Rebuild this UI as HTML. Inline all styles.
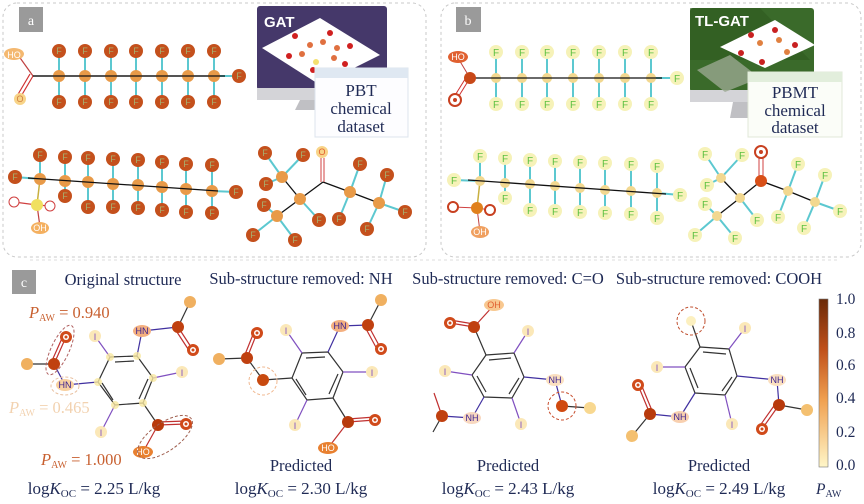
<!DOCTYPE html>
<html><head><meta charset="utf-8"><style>
html,body{margin:0;padding:0;background:#fff}
svg{display:block}
.t{font-family:"Liberation Serif",serif;fill:#1f2a55}
.fa{font-family:"Liberation Sans",sans-serif;font-size:9px;fill:#a8b070;text-anchor:middle}
.fb{font-family:"Liberation Sans",sans-serif;font-size:10px;fill:#5cc040;text-anchor:middle}
.lbl{font-family:"Liberation Serif",serif;font-size:14px;fill:#fff;text-anchor:middle}
.cy{stroke:#5cc8d0;stroke-width:2}
.bk{stroke:#111;stroke-width:1.3}
.at{font-family:"Liberation Sans",sans-serif;font-size:9px;text-anchor:middle}
</style></head><body>
<svg width="864" height="504" viewBox="0 0 864 504" xmlns="http://www.w3.org/2000/svg">
<defs>
<g id="Fa"><circle r="7" fill="#c4501c"/></g>
<g id="Fb"><circle r="7" fill="#f6f2b8"/></g>
<g id="Ca"><circle r="6" fill="#e89a48"/></g>
<g id="Cb"><circle r="5" fill="#f2d890"/></g>
<linearGradient id="cb" x1="0" y1="0" x2="0" y2="1">
<stop offset="0" stop-color="#6a2a08"/><stop offset="0.3" stop-color="#c0501a"/><stop offset="0.6" stop-color="#f0a050"/><stop offset="1" stop-color="#fff6c8"/></linearGradient>
</defs>

<rect x="3" y="3" width="423" height="254" rx="14" fill="none" stroke="#c8c8c8" stroke-dasharray="3,3"/>
<rect x="441" y="3" width="420" height="254" rx="14" fill="none" stroke="#c8c8c8" stroke-dasharray="3,3"/>
<line x1="30" y1="260" x2="840" y2="260" stroke="#ddd" stroke-dasharray="3,3"/>
<rect x="19" y="7" width="24" height="25" fill="#9a9a9a"/><text x="31" y="25" class="lbl">a</text>
<rect x="456" y="7" width="25" height="25" fill="#9a9a9a"/><text x="468" y="25" class="lbl">b</text>
<rect x="12" y="270" width="24" height="24" fill="#9a9a9a"/><text x="24" y="287" class="lbl">c</text>

<!-- Panel a chain 1 -->
<line x1="33" y1="76" x2="232" y2="76" class="bk"/>
<line x1="33" y1="76" x2="18" y2="55" stroke="#c04040" stroke-width="1.2"/>
<line x1="33" y1="76" x2="20" y2="98" stroke="#d03030" stroke-width="1.2"/>
<line x1="30" y1="74" x2="17" y2="96" stroke="#d03030" stroke-width="1.2"/>
<ellipse cx="14" cy="54" rx="10" ry="6" fill="#f4b870"/><text x="14" y="58" class="at" fill="#fff">HO</text>
<circle cx="20" cy="99" r="6" fill="#f8d488"/><text x="20" y="102" class="at" fill="#d08040">O</text>
<g class="cy">
<line x1="59" y1="51" x2="59" y2="102"/><line x1="85" y1="51" x2="85" y2="102"/><line x1="111" y1="51" x2="111" y2="102"/><line x1="136" y1="51" x2="136" y2="102"/><line x1="162" y1="51" x2="162" y2="102"/><line x1="188" y1="51" x2="188" y2="102"/><line x1="214" y1="51" x2="214" y2="102"/><line x1="214" y1="76" x2="239" y2="76"/></g>
<use href="#Ca" x="59" y="76"/><use href="#Ca" x="85" y="76"/><use href="#Ca" x="111" y="76"/><use href="#Ca" x="136" y="76"/><use href="#Ca" x="162" y="76"/><use href="#Ca" x="188" y="76"/><use href="#Ca" x="214" y="76"/>
<line x1="33" y1="76" x2="225" y2="76" class="bk"/>
<use href="#Fa" x="59" y="51"/><use href="#Fa" x="85" y="51"/><use href="#Fa" x="111" y="51"/><use href="#Fa" x="136" y="51"/><use href="#Fa" x="162" y="51"/><use href="#Fa" x="188" y="51"/><use href="#Fa" x="214" y="51"/>
<use href="#Fa" x="59" y="102"/><use href="#Fa" x="85" y="102"/><use href="#Fa" x="111" y="102"/><use href="#Fa" x="136" y="102"/><use href="#Fa" x="162" y="102"/><use href="#Fa" x="188" y="102"/><use href="#Fa" x="214" y="102"/><use href="#Fa" x="239" y="76"/>
<text x="59" y="54" class="fa">F</text><text x="85" y="54" class="fa">F</text><text x="111" y="54" class="fa">F</text><text x="136" y="54" class="fa">F</text><text x="162" y="54" class="fa">F</text><text x="188" y="54" class="fa">F</text><text x="214" y="54" class="fa">F</text>
<text x="59" y="105" class="fa">F</text><text x="85" y="105" class="fa">F</text><text x="111" y="105" class="fa">F</text><text x="136" y="105" class="fa">F</text><text x="162" y="105" class="fa">F</text><text x="188" y="105" class="fa">F</text><text x="214" y="105" class="fa">F</text><text x="239" y="79" class="fa">F</text>

<!-- GAT monitor -->
<rect x="257" y="6" width="130" height="84" rx="3" fill="#45386a"/>
<rect x="257" y="88" width="130" height="12" fill="#d4d4d8"/>
<polygon points="300,100 318,100 318,110 295,110" fill="#c0c0c4"/>
<polygon points="262,48 320,18 380,55 320,85" fill="#fff"/>
<g fill="#e07040"><circle cx="310" cy="45" r="3"/><circle cx="323" cy="42" r="3"/><circle cx="337" cy="48" r="3"/><circle cx="302" cy="54" r="3"/><circle cx="334" cy="58" r="3"/></g>
<g fill="#d02020"><circle cx="295" cy="36" r="3"/><circle cx="330" cy="33" r="3"/><circle cx="350" cy="46" r="3"/><circle cx="289" cy="56" r="3"/><circle cx="345" cy="64" r="3"/><circle cx="313" cy="70" r="3"/></g>
<circle cx="316" cy="62" r="3" fill="#f4e070"/>
<text x="264" y="27" font-family="Liberation Sans,sans-serif" font-size="15" font-weight="bold" fill="#fff">GAT</text>
<rect x="315" y="68" width="93" height="69" fill="#fdfdff" stroke="#dde4ee"/>
<rect x="315" y="68" width="93" height="10" fill="#dfe8f2"/>
<text x="361" y="96" class="t" font-size="17" text-anchor="middle">PBT</text>
<text x="361" y="114" class="t" font-size="17" text-anchor="middle">chemical</text>
<text x="361" y="132" class="t" font-size="17" text-anchor="middle">dataset</text>

<!-- Panel a chain 2 -->
<g class="cy">
<line x1="15" y1="177" x2="40" y2="179"/>
<line x1="40" y1="155" x2="40" y2="179"/><line x1="65" y1="157" x2="65" y2="196"/><line x1="88" y1="158" x2="88" y2="207"/><line x1="113" y1="159" x2="113" y2="207"/><line x1="138" y1="160" x2="138" y2="208"/><line x1="162" y1="162" x2="162" y2="210"/><line x1="186" y1="164" x2="186" y2="212"/><line x1="212" y1="165" x2="212" y2="213"/><line x1="212" y1="191" x2="236" y2="192"/></g>
<line x1="40" y1="179" x2="37" y2="205" stroke="#c8b040" stroke-width="1.5"/>
<line x1="37" y1="205" x2="14" y2="202" stroke="#d04040" stroke-width="1.2"/><line x1="37" y1="205" x2="50" y2="206" stroke="#d04040" stroke-width="1.2"/><line x1="37" y1="205" x2="40" y2="227" stroke="#c04040" stroke-width="1.2"/>
<use href="#Ca" x="40" y="179"/><use href="#Ca" x="65" y="181"/><use href="#Ca" x="88" y="182"/><use href="#Ca" x="113" y="184"/><use href="#Ca" x="138" y="185"/><use href="#Ca" x="162" y="187"/><use href="#Ca" x="186" y="189"/><use href="#Ca" x="212" y="191"/>
<line x1="28" y1="178" x2="218" y2="191" class="bk"/>
<circle cx="37" cy="205" r="6" fill="#f0e060"/>
<circle cx="14" cy="202" r="5" fill="#fff" stroke="#d04040"/><circle cx="50" cy="206" r="5" fill="#fff" stroke="#d04040"/>
<ellipse cx="40" cy="228" rx="9" ry="6" fill="#f4b060"/><text x="40" y="231" class="at" fill="#fff">OH</text>
<g>
<use href="#Fa" x="15" y="177"/><use href="#Fa" x="40" y="155"/><use href="#Fa" x="65" y="157"/><use href="#Fa" x="88" y="158"/><use href="#Fa" x="113" y="159"/><use href="#Fa" x="138" y="160"/><use href="#Fa" x="162" y="162"/><use href="#Fa" x="186" y="164"/><use href="#Fa" x="212" y="165"/>
<use href="#Fa" x="65" y="196"/><use href="#Fa" x="88" y="207"/><use href="#Fa" x="113" y="207"/><use href="#Fa" x="138" y="208"/><use href="#Fa" x="162" y="210"/><use href="#Fa" x="186" y="212"/><use href="#Fa" x="212" y="213"/><use href="#Fa" x="236" y="192"/></g>
<text x="15" y="180" class="fa">F</text><text x="40" y="158" class="fa">F</text><text x="65" y="160" class="fa">F</text><text x="88" y="161" class="fa">F</text><text x="113" y="162" class="fa">F</text><text x="138" y="163" class="fa">F</text><text x="162" y="165" class="fa">F</text><text x="186" y="167" class="fa">F</text><text x="212" y="168" class="fa">F</text>
<text x="65" y="199" class="fa">F</text><text x="88" y="210" class="fa">F</text><text x="113" y="210" class="fa">F</text><text x="138" y="211" class="fa">F</text><text x="162" y="213" class="fa">F</text><text x="186" y="215" class="fa">F</text><text x="212" y="216" class="fa">F</text><text x="236" y="195" class="fa">F</text>

<!-- Panel a ketone -->
<g class="cy">
<line x1="282" y1="177" x2="265" y2="153"/><line x1="282" y1="177" x2="303" y2="155"/><line x1="282" y1="177" x2="266" y2="184"/>
<line x1="300" y1="199" x2="319" y2="220"/>
<line x1="277" y1="216" x2="264" y2="205"/><line x1="277" y1="216" x2="253" y2="235"/><line x1="277" y1="216" x2="295" y2="240"/>
<line x1="350" y1="192" x2="360" y2="164"/><line x1="350" y1="192" x2="339" y2="219"/>
<line x1="379" y1="203" x2="387" y2="175"/><line x1="379" y1="203" x2="405" y2="212"/><line x1="379" y1="203" x2="367" y2="229"/></g>
<line x1="282" y1="177" x2="300" y2="199" class="bk"/><line x1="300" y1="199" x2="277" y2="216" class="bk"/>
<line x1="300" y1="199" x2="323" y2="182" class="bk"/><line x1="323" y1="182" x2="350" y2="192" class="bk"/><line x1="350" y1="192" x2="379" y2="203" class="bk"/>
<line x1="321" y1="158" x2="321" y2="182" stroke="#d04040"/><line x1="324" y1="158" x2="324" y2="182" stroke="#d04040"/>
<use href="#Ca" x="282" y="177"/><use href="#Ca" x="300" y="199"/><use href="#Ca" x="277" y="216"/><use href="#Ca" x="350" y="192"/><use href="#Ca" x="379" y="203"/>
<circle cx="322" cy="152" r="6" fill="#f8d488"/><text x="322" y="155" class="at" fill="#e06030">O</text>
<use href="#Fa" x="265" y="153"/><use href="#Fa" x="303" y="155"/><use href="#Fa" x="266" y="184"/><use href="#Fa" x="319" y="220"/><use href="#Fa" x="264" y="205"/><use href="#Fa" x="253" y="235"/><use href="#Fa" x="295" y="240"/><use href="#Fa" x="360" y="164"/><use href="#Fa" x="339" y="219"/><use href="#Fa" x="387" y="175"/><use href="#Fa" x="405" y="212"/><use href="#Fa" x="367" y="229"/>
<text x="265" y="156" class="fa">F</text><text x="303" y="158" class="fa">F</text><text x="266" y="187" class="fa">F</text><text x="319" y="223" class="fa">F</text><text x="264" y="208" class="fa">F</text><text x="253" y="238" class="fa">F</text><text x="295" y="243" class="fa">F</text><text x="360" y="167" class="fa">F</text><text x="339" y="222" class="fa">F</text><text x="387" y="178" class="fa">F</text><text x="405" y="215" class="fa">F</text><text x="367" y="232" class="fa">F</text>

<!-- Panel b chain 1 -->
<g class="cy">
<line x1="496" y1="52" x2="496" y2="104"/><line x1="522" y1="52" x2="522" y2="104"/><line x1="547" y1="52" x2="547" y2="104"/><line x1="573" y1="52" x2="573" y2="104"/><line x1="599" y1="52" x2="599" y2="104"/><line x1="625" y1="52" x2="625" y2="104"/><line x1="651" y1="52" x2="651" y2="104"/><line x1="651" y1="78" x2="675" y2="78"/></g>
<use href="#Cb" x="496" y="78"/><use href="#Cb" x="522" y="78"/><use href="#Cb" x="547" y="78"/><use href="#Cb" x="573" y="78"/><use href="#Cb" x="599" y="78"/><use href="#Cb" x="625" y="78"/><use href="#Cb" x="651" y="78"/>
<line x1="470" y1="78" x2="662" y2="78" class="bk"/>
<line x1="470" y1="78" x2="458" y2="58" stroke="#c04040"/><line x1="470" y1="78" x2="457" y2="99" stroke="#d03030"/><line x1="467" y1="76" x2="454" y2="97" stroke="#d03030"/>
<circle cx="470" cy="78" r="6" fill="#c84818"/>
<ellipse cx="458" cy="57" rx="10" ry="6" fill="#e06030"/><text x="458" y="60" class="at" fill="#fff">HO</text>
<circle cx="455" cy="100" r="6" fill="#fff" stroke="#c84020" stroke-width="2"/><circle cx="455" cy="100" r="2" fill="#c84020"/>
<g><use href="#Fb" x="496" y="52"/><use href="#Fb" x="522" y="52"/><use href="#Fb" x="547" y="52"/><use href="#Fb" x="573" y="52"/><use href="#Fb" x="599" y="52"/><use href="#Fb" x="625" y="52"/><use href="#Fb" x="651" y="52"/>
<use href="#Fb" x="496" y="104"/><use href="#Fb" x="522" y="104"/><use href="#Fb" x="547" y="104"/><use href="#Fb" x="573" y="104"/><use href="#Fb" x="599" y="104"/><use href="#Fb" x="625" y="104"/><use href="#Fb" x="651" y="104"/><use href="#Fb" x="677" y="78"/></g>
<text x="496" y="56" class="fb">F</text><text x="522" y="56" class="fb">F</text><text x="547" y="56" class="fb">F</text><text x="573" y="56" class="fb">F</text><text x="599" y="56" class="fb">F</text><text x="625" y="56" class="fb">F</text><text x="651" y="56" class="fb">F</text>
<text x="496" y="108" class="fb">F</text><text x="522" y="108" class="fb">F</text><text x="547" y="108" class="fb">F</text><text x="573" y="108" class="fb">F</text><text x="599" y="108" class="fb">F</text><text x="625" y="108" class="fb">F</text><text x="651" y="108" class="fb">F</text><text x="677" y="82" class="fb">F</text>

<!-- TL-GAT monitor -->
<rect x="690" y="8" width="124" height="84" rx="3" fill="#3a6a2a"/>
<polygon points="690,8 760,8 810,60 690,60" fill="#2e5a20" opacity="0.6"/>
<rect x="690" y="90" width="124" height="12" fill="#d4d4d8"/>
<polygon points="733,102 752,102 752,118 730,118" fill="#c0c0c4"/>
<polygon points="697,70 730,55 760,78 725,92" fill="#9aa890" opacity="0.8"/>
<polygon points="720,47 775,20 815,45 765,68" fill="#fff"/>
<g fill="#c82020"><circle cx="751" cy="35" r="3"/><circle cx="775" cy="30" r="3"/><circle cx="741" cy="53" r="3"/><circle cx="795" cy="45" r="3"/><circle cx="762" cy="62" r="3"/></g>
<g fill="#e08040"><circle cx="760" cy="43" r="3"/><circle cx="779" cy="40" r="3"/><circle cx="787" cy="52" r="3"/></g>
<text x="695" y="26" font-family="Liberation Sans,sans-serif" font-size="15" font-weight="bold" fill="#fff">TL-GAT</text>
<rect x="748" y="72" width="94" height="65" fill="#fbfdf8" stroke="#e0e8d8"/>
<rect x="748" y="72" width="94" height="10" fill="#e2eedc"/>
<text x="795" y="98" class="t" font-size="17" text-anchor="middle">PBMT</text>
<text x="795" y="116" class="t" font-size="17" text-anchor="middle">chemical</text>
<text x="795" y="133" class="t" font-size="17" text-anchor="middle">dataset</text>

<!-- Panel b chain 2 -->
<g class="cy">
<line x1="454" y1="180" x2="480" y2="181"/>
<line x1="480" y1="156" x2="480" y2="181"/><line x1="505" y1="158" x2="505" y2="198"/><line x1="530" y1="160" x2="530" y2="210"/><line x1="555" y1="161" x2="555" y2="211"/><line x1="580" y1="162" x2="580" y2="212"/><line x1="605" y1="163" x2="605" y2="213"/><line x1="631" y1="164" x2="631" y2="214"/><line x1="657" y1="166" x2="657" y2="218"/><line x1="657" y1="193" x2="680" y2="195"/></g>
<line x1="480" y1="181" x2="477" y2="208" stroke="#c8b040" stroke-width="1.5"/>
<line x1="477" y1="208" x2="453" y2="207" stroke="#d04040"/><line x1="477" y1="208" x2="490" y2="210" stroke="#d04040"/><line x1="477" y1="208" x2="480" y2="232" stroke="#c04040"/>
<use href="#Cb" x="480" y="181"/><use href="#Cb" x="505" y="183"/><use href="#Cb" x="530" y="184"/><use href="#Cb" x="555" y="186"/><use href="#Cb" x="580" y="188"/><use href="#Cb" x="605" y="190"/><use href="#Cb" x="631" y="191"/><use href="#Cb" x="657" y="193"/>
<line x1="468" y1="180" x2="666" y2="194" class="bk"/>
<circle cx="477" cy="208" r="6" fill="#e0801c"/>
<circle cx="453" cy="207" r="5" fill="#fff" stroke="#c84020" stroke-width="2"/><circle cx="490" cy="210" r="5" fill="#fff" stroke="#c84020" stroke-width="2"/>
<ellipse cx="480" cy="232" rx="9" ry="6" fill="#f0a060"/><text x="480" y="235" class="at" fill="#fff">OH</text>
<g><use href="#Fb" x="454" y="180"/><use href="#Fb" x="480" y="156"/><use href="#Fb" x="505" y="158"/><use href="#Fb" x="530" y="160"/><use href="#Fb" x="555" y="161"/><use href="#Fb" x="580" y="162"/><use href="#Fb" x="605" y="163"/><use href="#Fb" x="631" y="164"/><use href="#Fb" x="657" y="166"/>
<use href="#Fb" x="505" y="198"/><use href="#Fb" x="530" y="210"/><use href="#Fb" x="555" y="211"/><use href="#Fb" x="580" y="212"/><use href="#Fb" x="605" y="213"/><use href="#Fb" x="631" y="214"/><use href="#Fb" x="657" y="218"/><use href="#Fb" x="680" y="195"/></g>
<text x="454" y="184" class="fb">F</text><text x="480" y="160" class="fb">F</text><text x="505" y="162" class="fb">F</text><text x="530" y="164" class="fb">F</text><text x="555" y="165" class="fb">F</text><text x="580" y="166" class="fb">F</text><text x="605" y="167" class="fb">F</text><text x="631" y="168" class="fb">F</text><text x="657" y="170" class="fb">F</text>
<text x="505" y="202" class="fb">F</text><text x="530" y="214" class="fb">F</text><text x="555" y="215" class="fb">F</text><text x="580" y="216" class="fb">F</text><text x="605" y="217" class="fb">F</text><text x="631" y="218" class="fb">F</text><text x="657" y="222" class="fb">F</text><text x="680" y="199" class="fb">F</text>

<!-- Panel b ketone -->
<g class="cy">
<line x1="721" y1="178" x2="705" y2="154"/><line x1="721" y1="178" x2="742" y2="155"/><line x1="721" y1="178" x2="707" y2="185"/>
<line x1="740" y1="198" x2="757" y2="220"/>
<line x1="717" y1="216" x2="705" y2="204"/><line x1="717" y1="216" x2="695" y2="235"/><line x1="717" y1="216" x2="735" y2="238"/>
<line x1="788" y1="191" x2="798" y2="164"/><line x1="788" y1="191" x2="778" y2="217"/>
<line x1="815" y1="202" x2="825" y2="175"/><line x1="815" y1="202" x2="840" y2="211"/><line x1="815" y1="202" x2="804" y2="228"/></g>
<line x1="721" y1="178" x2="740" y2="198" class="bk"/><line x1="740" y1="198" x2="717" y2="216" class="bk"/>
<line x1="740" y1="198" x2="761" y2="181" class="bk"/><line x1="761" y1="181" x2="788" y2="191" class="bk"/><line x1="788" y1="191" x2="815" y2="202" class="bk"/>
<line x1="759" y1="158" x2="759" y2="181" stroke="#d04040"/><line x1="763" y1="158" x2="763" y2="181" stroke="#d04040"/>
<use href="#Cb" x="721" y="178"/><use href="#Cb" x="740" y="198"/><use href="#Cb" x="717" y="216"/><use href="#Cb" x="788" y="191"/><use href="#Cb" x="815" y="202"/>
<circle cx="761" cy="181" r="6" fill="#d85018"/>
<circle cx="761" cy="152" r="6" fill="#fff" stroke="#c84020" stroke-width="2"/><circle cx="761" cy="152" r="2" fill="#c84020"/>
<use href="#Fb" x="705" y="154"/><use href="#Fb" x="742" y="155"/><use href="#Fb" x="707" y="185"/><use href="#Fb" x="757" y="220"/><use href="#Fb" x="705" y="204"/><use href="#Fb" x="695" y="235"/><use href="#Fb" x="735" y="238"/><use href="#Fb" x="798" y="164"/><use href="#Fb" x="778" y="217"/><use href="#Fb" x="825" y="175"/><use href="#Fb" x="840" y="211"/><use href="#Fb" x="804" y="228"/>
<text x="705" y="158" class="fb">F</text><text x="742" y="159" class="fb">F</text><text x="707" y="189" class="fb">F</text><text x="757" y="224" class="fb">F</text><text x="705" y="208" class="fb">F</text><text x="695" y="239" class="fb">F</text><text x="735" y="242" class="fb">F</text><text x="798" y="168" class="fb">F</text><text x="778" y="221" class="fb">F</text><text x="825" y="179" class="fb">F</text><text x="840" y="215" class="fb">F</text><text x="804" y="232" class="fb">F</text>

<!-- Panel c titles -->
<g class="t" font-size="16.5" text-anchor="middle">
<text x="123" y="285">Original structure</text>
<text x="301" y="284">Sub-structure removed: NH</text>
<text x="508" y="284">Sub-structure removed: C=O</text>
<text x="719" y="284">Sub-structure removed: COOH</text>
<text x="301" y="471">Predicted</text>
<text x="508" y="471">Predicted</text>
<text x="719" y="471">Predicted</text>
</g>
<g class="t" font-size="17" text-anchor="middle">
<text x="94" y="494">log<tspan font-style="italic">K</tspan><tspan font-size="11" dy="3">OC</tspan><tspan dy="-3"> = 2.25 L/kg</tspan></text>
<text x="301" y="494">log<tspan font-style="italic">K</tspan><tspan font-size="11" dy="3">OC</tspan><tspan dy="-3"> = 2.30 L/kg</tspan></text>
<text x="508" y="494">log<tspan font-style="italic">K</tspan><tspan font-size="11" dy="3">OC</tspan><tspan dy="-3"> = 2.43 L/kg</tspan></text>
<text x="719" y="494">log<tspan font-style="italic">K</tspan><tspan font-size="11" dy="3">OC</tspan><tspan dy="-3"> = 2.49 L/kg</tspan></text>
</g>

<!-- Mol 1 original -->
<g stroke-width="1.2" fill="none">
<polygon points="110,357 137,356 153,378 143,403 115,405 98,382" stroke="#333"/>
<line x1="115" y1="362" x2="134" y2="361" stroke="#333"/><line x1="148" y1="379" x2="139" y2="399" stroke="#333"/><line x1="102" y1="383" x2="113" y2="400" stroke="#333"/>
<line x1="98" y1="382" x2="65" y2="385" stroke="#4030a0"/><line x1="110" y1="357" x2="95" y2="336" stroke="#8050c0"/><line x1="137" y1="356" x2="142" y2="331" stroke="#4030a0"/>
<line x1="142" y1="331" x2="178" y2="327" stroke="#4030a0"/><line x1="178" y1="327" x2="190" y2="302" stroke="#333"/><line x1="178" y1="327" x2="193" y2="350" stroke="#c03030"/><line x1="175" y1="329" x2="190" y2="352" stroke="#c03030"/>
<line x1="153" y1="378" x2="182" y2="372" stroke="#8050c0"/><line x1="143" y1="403" x2="158" y2="425" stroke="#333"/><line x1="158" y1="425" x2="186" y2="424" stroke="#c03030"/><line x1="158" y1="422" x2="186" y2="421" stroke="#c03030"/><line x1="158" y1="425" x2="143" y2="452" stroke="#c03030"/>
<line x1="115" y1="405" x2="101" y2="432" stroke="#8050c0"/>
<line x1="65" y1="385" x2="54" y2="364" stroke="#4030a0"/><line x1="54" y1="364" x2="27" y2="364" stroke="#333"/><line x1="54" y1="364" x2="66" y2="337" stroke="#c03030"/><line x1="51" y1="363" x2="63" y2="336" stroke="#c03030"/>
</g>
<g fill="#f8e8a0" opacity="0.8"><circle cx="110" cy="357" r="4"/><circle cx="137" cy="356" r="4"/><circle cx="153" cy="378" r="4"/><circle cx="143" cy="403" r="4"/><circle cx="115" cy="405" r="4"/><circle cx="98" cy="382" r="4"/></g>
<circle cx="95" cy="336" r="6" fill="#fbe8b8"/><text x="95" y="340" class="at" fill="#8050c0">I</text>
<circle cx="182" cy="372" r="6" fill="#fbe8b8"/><text x="182" y="376" class="at" fill="#8050c0">I</text>
<circle cx="101" cy="432" r="6" fill="#fbe8b8"/><text x="101" y="436" class="at" fill="#8050c0">I</text>
<ellipse cx="142" cy="331" rx="9" ry="6" fill="#f4b080"/><text x="142" y="334" class="at" fill="#3a2090">HN</text>
<ellipse cx="65" cy="385" rx="9" ry="6" fill="#f8d0a0"/><text x="65" y="388" class="at" fill="#3a2090">HN</text>
<circle cx="178" cy="327" r="6" fill="#c04010"/><circle cx="190" cy="302" r="6" fill="#f0b060"/>
<circle cx="193" cy="350" r="6" fill="#d04a1a"/><circle cx="193" cy="350" r="3" fill="#fff"/><circle cx="193" cy="350" r="1.5" fill="#d04a1a"/>
<circle cx="158" cy="425" r="6" fill="#b83a0c"/><circle cx="186" cy="424" r="6" fill="#d04a1a"/><circle cx="186" cy="424" r="3" fill="#fff"/><circle cx="186" cy="424" r="1.5" fill="#d04a1a"/>
<ellipse cx="143" cy="452" rx="10" ry="6" fill="#e88030"/><text x="143" y="455" class="at" fill="#fff">HO</text>
<circle cx="54" cy="364" r="6" fill="#c04010"/><circle cx="27" cy="364" r="6" fill="#f0b060"/>
<circle cx="66" cy="337" r="6" fill="#d04a1a"/><circle cx="66" cy="337" r="3" fill="#fff"/><circle cx="66" cy="337" r="1.5" fill="#d04a1a"/>
<g fill="none" stroke-dasharray="3,2">
<ellipse cx="60" cy="350" rx="9" ry="27" transform="rotate(25 60 350)" stroke="#b06060"/>
<ellipse cx="65" cy="386" rx="14" ry="9" stroke="#e8c0a0"/>
<ellipse cx="165" cy="437" rx="14" ry="32" transform="rotate(55 165 437)" stroke="#a06050"/>
</g>
<g font-family="Liberation Serif,serif" font-size="16.5">
<text x="29" y="318" fill="#c86030"><tspan font-style="italic">P</tspan><tspan font-size="10" dy="3">AW</tspan><tspan dy="-3"> = 0.940</tspan></text>
<text x="9" y="413" fill="#f2d2b0"><tspan font-style="italic">P</tspan><tspan font-size="10" dy="3">AW</tspan><tspan dy="-3"> = 0.465</tspan></text>
<text x="41" y="465" fill="#c86030"><tspan font-style="italic">P</tspan><tspan font-size="10" dy="3">AW</tspan><tspan dy="-3"> = 1.000</tspan></text>
</g>

<!-- Mol 2 -->
<g stroke-width="1.2" fill="none">
<polygon points="302,353 328,352 343,372 333,398 307,400 292,378" stroke="#333"/>
<line x1="306" y1="358" x2="325" y2="357" stroke="#333"/><line x1="338" y1="374" x2="329" y2="394" stroke="#333"/><line x1="296" y1="379" x2="306" y2="395" stroke="#333"/>
<line x1="292" y1="378" x2="263" y2="380" stroke="#333"/><line x1="263" y1="380" x2="247" y2="358" stroke="#333"/><line x1="247" y1="358" x2="219" y2="359" stroke="#333"/><line x1="247" y1="358" x2="257" y2="333" stroke="#c03030"/><line x1="244" y1="357" x2="254" y2="332" stroke="#c03030"/>
<line x1="302" y1="353" x2="286" y2="330" stroke="#8050c0"/><line x1="328" y1="352" x2="340" y2="326" stroke="#4030a0"/><line x1="340" y1="326" x2="368" y2="325" stroke="#4030a0"/><line x1="368" y1="325" x2="381" y2="300" stroke="#333"/><line x1="368" y1="325" x2="381" y2="349" stroke="#c03030"/><line x1="365" y1="327" x2="378" y2="351" stroke="#c03030"/>
<line x1="343" y1="372" x2="372" y2="372" stroke="#8050c0"/><line x1="333" y1="398" x2="348" y2="422" stroke="#333"/><line x1="348" y1="422" x2="375" y2="420" stroke="#c03030"/><line x1="348" y1="419" x2="375" y2="417" stroke="#c03030"/><line x1="348" y1="422" x2="328" y2="448" stroke="#c03030"/><line x1="307" y1="400" x2="295" y2="425" stroke="#8050c0"/>
</g>
<circle cx="286" cy="330" r="6" fill="#fbe8b8"/><text x="286" y="334" class="at" fill="#8050c0">I</text>
<circle cx="372" cy="372" r="6" fill="#fbe8b8"/><text x="372" y="376" class="at" fill="#8050c0">I</text>
<circle cx="295" cy="425" r="6" fill="#fbe8b8"/><text x="295" y="429" class="at" fill="#8050c0">I</text>
<ellipse cx="340" cy="326" rx="9" ry="6" fill="#f4b080"/><text x="340" y="329" class="at" fill="#3a2090">HN</text>
<circle cx="368" cy="325" r="6" fill="#c04010"/><circle cx="381" cy="300" r="6" fill="#f0b060"/>
<circle cx="381" cy="349" r="6" fill="#d04a1a"/><circle cx="381" cy="349" r="3" fill="#fff"/><circle cx="381" cy="349" r="1.5" fill="#d04a1a"/>
<circle cx="348" cy="422" r="6" fill="#b83a0c"/><circle cx="375" cy="420" r="6" fill="#d04a1a"/><circle cx="375" cy="420" r="3" fill="#fff"/><circle cx="375" cy="420" r="1.5" fill="#d04a1a"/>
<ellipse cx="328" cy="448" rx="10" ry="6" fill="#e88030"/><text x="328" y="451" class="at" fill="#fff">HO</text>
<circle cx="263" cy="380" r="6" fill="#c84a10"/><circle cx="247" cy="358" r="6" fill="#c04010"/><circle cx="219" cy="359" r="6" fill="#f0b060"/>
<circle cx="257" cy="333" r="6" fill="#d04a1a"/><circle cx="257" cy="333" r="3" fill="#fff"/><circle cx="257" cy="333" r="1.5" fill="#d04a1a"/>
<circle cx="263" cy="381" r="14" fill="none" stroke="#f0b890" stroke-dasharray="3,2"/>

<!-- Mol 3 -->
<g stroke-width="1.2" fill="none">
<polygon points="486,355 514,353 524,377 512,398 484,397 472,375" stroke="#333"/>
<line x1="489" y1="360" x2="511" y2="358" stroke="#333"/><line x1="519" y1="378" x2="509" y2="394" stroke="#333"/><line x1="477" y1="376" x2="486" y2="392" stroke="#333"/>
<line x1="486" y1="355" x2="474" y2="327" stroke="#333"/><line x1="474" y1="327" x2="494" y2="305" stroke="#c03030"/><line x1="474" y1="327" x2="450" y2="323" stroke="#c03030"/><line x1="474" y1="324" x2="450" y2="320" stroke="#c03030"/>
<line x1="514" y1="353" x2="528" y2="331" stroke="#8050c0"/><line x1="472" y1="375" x2="445" y2="371" stroke="#8050c0"/>
<line x1="524" y1="377" x2="555" y2="380" stroke="#4030a0"/><line x1="555" y1="380" x2="562" y2="406" stroke="#4030a0"/><line x1="562" y1="406" x2="590" y2="408" stroke="#333"/>
<line x1="512" y1="398" x2="521" y2="424" stroke="#8050c0"/><line x1="484" y1="397" x2="472" y2="418" stroke="#4030a0"/><line x1="472" y1="418" x2="442" y2="416" stroke="#4030a0"/><line x1="442" y1="416" x2="433" y2="432" stroke="#333"/><line x1="442" y1="416" x2="434" y2="393" stroke="#c03030"/>
</g>
<circle cx="474" cy="327" r="6" fill="#c04010"/>
<circle cx="450" cy="323" r="6" fill="#d04a1a"/><circle cx="450" cy="323" r="3" fill="#fff"/><circle cx="450" cy="323" r="1.5" fill="#d04a1a"/>
<ellipse cx="494" cy="305" rx="10" ry="6" fill="#f8c890"/><text x="494" y="308" class="at" fill="#e06030">OH</text>
<circle cx="528" cy="331" r="6" fill="#fbe8b8"/><text x="528" y="335" class="at" fill="#8050c0">I</text>
<circle cx="445" cy="371" r="6" fill="#fbe8b8"/><text x="445" y="375" class="at" fill="#8050c0">I</text>
<circle cx="521" cy="424" r="6" fill="#fbe8b8"/><text x="521" y="428" class="at" fill="#8050c0">I</text>
<ellipse cx="555" cy="380" rx="9" ry="6" fill="#fbe0c0"/><text x="555" y="383" class="at" fill="#3a2090">NH</text>
<ellipse cx="472" cy="418" rx="9" ry="6" fill="#f8d8c0"/><text x="472" y="421" class="at" fill="#3a2090">NH</text>
<circle cx="562" cy="406" r="6" fill="#d04a10"/><circle cx="590" cy="408" r="6" fill="#f8d890"/>
<circle cx="562" cy="406" r="14" fill="none" stroke="#c85030" stroke-dasharray="3,2"/>
<circle cx="442" cy="416" r="6" fill="#c04010"/>

<!-- Mol 4 -->
<g stroke-width="1.2" fill="none">
<polygon points="700,347 729,349 737,376 725,395 695,393 685,367" stroke="#333"/>
<line x1="703" y1="352" x2="726" y2="354" stroke="#333"/><line x1="732" y1="377" x2="722" y2="391" stroke="#333"/><line x1="690" y1="368" x2="698" y2="388" stroke="#333"/>
<line x1="700" y1="347" x2="691" y2="321" stroke="#333"/><line x1="729" y1="349" x2="745" y2="328" stroke="#8050c0"/><line x1="685" y1="367" x2="657" y2="367" stroke="#8050c0"/>
<line x1="737" y1="376" x2="777" y2="380" stroke="#4030a0"/><line x1="777" y1="380" x2="779" y2="405" stroke="#4030a0"/><line x1="779" y1="405" x2="807" y2="410" stroke="#333"/><line x1="779" y1="405" x2="762" y2="429" stroke="#c03030"/><line x1="776" y1="403" x2="759" y2="427" stroke="#c03030"/>
<line x1="725" y1="395" x2="732" y2="424" stroke="#8050c0"/><line x1="695" y1="393" x2="680" y2="417" stroke="#4030a0"/><line x1="680" y1="417" x2="650" y2="414" stroke="#4030a0"/><line x1="650" y1="414" x2="638" y2="385" stroke="#c03030"/><line x1="653" y1="413" x2="641" y2="384" stroke="#c03030"/><line x1="650" y1="414" x2="632" y2="436" stroke="#333"/>
</g>
<circle cx="691" cy="321" r="5" fill="#fcf0c0"/>
<circle cx="691" cy="321" r="14" fill="none" stroke="#c05030" stroke-dasharray="3,2"/>
<circle cx="745" cy="328" r="6" fill="#fbe8b8"/><text x="745" y="332" class="at" fill="#8050c0">I</text>
<circle cx="657" cy="367" r="6" fill="#fbe8b8"/><text x="657" y="371" class="at" fill="#8050c0">I</text>
<circle cx="732" cy="424" r="6" fill="#fbe8b8"/><text x="732" y="428" class="at" fill="#8050c0">I</text>
<ellipse cx="777" cy="380" rx="9" ry="6" fill="#fbe0c0"/><text x="777" y="383" class="at" fill="#3a2090">NH</text>
<ellipse cx="680" cy="417" rx="9" ry="6" fill="#f8d0b0"/><text x="680" y="420" class="at" fill="#3a2090">NH</text>
<circle cx="779" cy="405" r="6" fill="#b83a0c"/><circle cx="807" cy="410" r="6" fill="#f4c070"/>
<circle cx="762" cy="429" r="6" fill="#d04a1a"/><circle cx="762" cy="429" r="3" fill="#fff"/><circle cx="762" cy="429" r="1.5" fill="#d04a1a"/>
<circle cx="650" cy="414" r="6" fill="#b83a0c"/><circle cx="632" cy="436" r="6" fill="#f4c070"/>
<circle cx="638" cy="385" r="6" fill="#d04a1a"/><circle cx="638" cy="385" r="3" fill="#fff"/><circle cx="638" cy="385" r="1.5" fill="#d04a1a"/>

<!-- Colorbar -->
<rect x="819" y="299" width="9" height="168" fill="url(#cb)" stroke="#777" stroke-width="0.6"/>
<g class="t" font-size="15.5">
<text x="836" y="304">1.0</text><text x="836" y="338">0.8</text><text x="836" y="370">0.6</text><text x="836" y="403">0.4</text><text x="836" y="437">0.2</text><text x="836" y="470">0.0</text>
<text x="816" y="494"><tspan font-style="italic">P</tspan><tspan font-size="10" dy="3">AW</tspan></text>
</g>
</svg>
</body></html>
